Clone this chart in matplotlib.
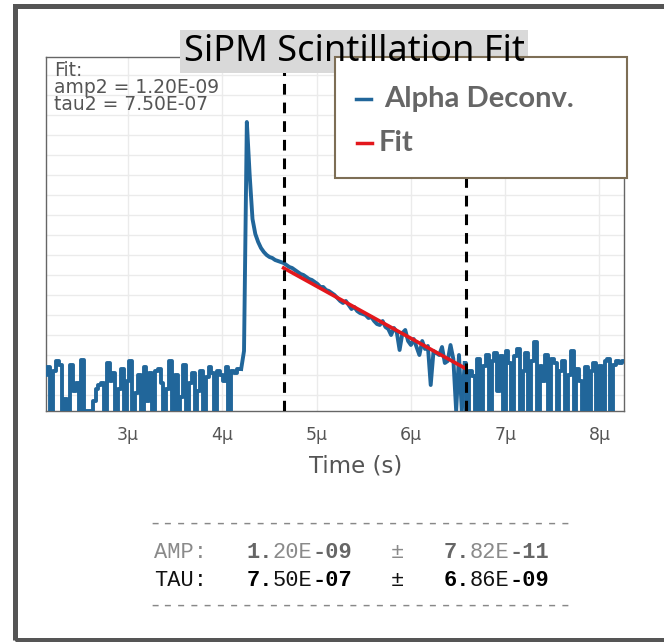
import numpy as np
import matplotlib
matplotlib.use("Agg")
import matplotlib.pyplot as plt
from matplotlib.patches import Rectangle
from matplotlib.lines import Line2D

# waveform samples (arbitrary units, log-like display height), 0.03 us apart
t0 = 2.13
dt = 0.03
baseline_pre = [36, 44, 0, 40, 50, 46, 0, 12, 0, 46,
                20, 28, 0, 51, 0, 0, 0, 10, 22, 26,
                28, 0, 48, 30, 38, 0, 22, 42, 0, 30,
                50, 0, 18, 36, 0, 44, 10, 38, 0, 40,
                42, 28, 0, 22, 50, 0, 36, 0, 14, 46,
                0, 28, 38, 0, 20, 40, 0, 34, 44, 38,
                0, 40, 36, 30, 44, 0, 40, 38, 42]
pulse = [42, 60, 289, 236, 192, 177, 169, 163, 159, 156, 154, 153, 151, 150, 149]
decay = [148, 146, 144, 143, 141, 139, 137, 136, 134, 132,
         131, 129, 127, 124, 124, 121, 120, 118, 116, 113,
         110, 108, 110, 106, 102, 104, 100, 98, 97, 96,
         93, 94, 90, 87, 86, 90, 84, 82, 76, 83,
         79, 61, 78, 81, 70, 66, 72, 64, 56, 70,
         62, 65, 26, 60, 58, 56, 64, 48, 50, 66,
         52, 0, 56, 0]
baseline_post = [48, 0, 40, 35, 0, 52, 0, 45, 56, 0,
                 50, 58, 20, 55, 0, 60, 48, 0, 55, 62,
                 0, 40, 58, 0, 50, 69, 0, 45, 30, 56,
                 0, 52, 48, 0, 40, 50, 0, 36, 60, 0,
                 42, 30, 0, 44, 0, 40, 48, 0, 45, 0,
                 50, 52, 0, 46, 50, 48, 50]

fit_t = [4.65, 6.57]
fit_y = [143, 43]
window_t = [4.65, 6.58]

xticks = [3, 4, 5, 6, 7, 8]
xticklabels = ["3\u03bc", "4\u03bc", "5\u03bc", "6\u03bc", "7\u03bc", "8\u03bc"]

fit_note = "Fit:\namp2 = 1.20E-09\ntau2 = 7.50E-07"
table_rows = [
    ("AMP:", ["1.", "20E", "-09"], ["7.", "82E", "-11"], "#8a8a8a", "#666666"),
    ("TAU:", ["7.", "50E", "-07"], ["6.", "86E", "-09"], "#111111", "#000000"),
]

signal = baseline_pre + pulse + decay + baseline_post
t = t0 + dt * np.arange(len(signal))
n1 = len(baseline_pre)
n2 = n1 + len(pulse) + len(decay)

W, H = 664, 642
def fx(px):
    return px / W
def fy(py):
    return 1 - py / H

fig = plt.figure(figsize=(6.64, 6.42), dpi=100)
fig.patch.set_facecolor("white")

ax = fig.add_axes([fx(46), fy(411), fx(624) - fx(46), fy(57) - fy(411)])
blue = "#21669a"
# noisy baseline looks like bars, pulse + decay drawn as a plain line
ax.plot(t[:n1 + 1], signal[:n1 + 1], color=blue, lw=2.8, drawstyle="steps-mid", zorder=3)
ax.plot(t[n1:n2 + 1], signal[n1:n2 + 1], color=blue, lw=2.8, zorder=3)
ax.plot(t[n2:], signal[n2:], color=blue, lw=2.8, drawstyle="steps-mid", zorder=3)
ax.plot(fit_t, fit_y, color="#e3171c", lw=2.6, zorder=4)
for x in window_t:
    ax.axvline(x, color="black", lw=2.2, ls=(0, (3.5, 2.6)), zorder=5)

ax.set_xlim(2.13, 8.26)
ax.set_ylim(0, 354)
ax.set_xticks(xticks)
ax.set_xticklabels(xticklabels)
ax.set_yticks(np.arange(16, 354, 20))
ax.set_yticklabels([])
ax.grid(True, color="#ebebeb", lw=1)
ax.set_axisbelow(True)
ax.tick_params(length=0, pad=11, labelsize=12.5, labelcolor="#555555")
for s in ax.spines.values():
    s.set_color("#666666")
    s.set_linewidth(1)

ax.text(0.014, 0.99, fit_note, transform=ax.transAxes, ha="left", va="top",
        fontsize=13.5, color="#555555", linespacing=0.88, family="DejaVu Sans")

fig.text(fx(356), fy(466), "Time (s)", ha="center", va="center",
         fontsize=16.5, color="#555555")

# title with grey background
fig.add_artist(Rectangle((fx(180), fy(73)), fx(528) - fx(180), fy(30) - fy(73),
                         transform=fig.transFigure, facecolor="#d9d9d9",
                         edgecolor="none", zorder=6))
fig.text(fx(354), fy(52), "SiPM Scintillation Fit", ha="center", va="center",
         fontsize=26, color="black", family="Noto Sans", zorder=7)

# legend box
fig.add_artist(Rectangle((fx(335), fy(178)), fx(627) - fx(335), fy(57) - fy(178),
                         transform=fig.transFigure, facecolor="white",
                         edgecolor="#7d6e55", lw=1.5, zorder=6))
fig.add_artist(Line2D([fx(356), fx(371)], [fy(99), fy(99)], transform=fig.transFigure,
                      color=blue, lw=2.5, zorder=7))
fig.add_artist(Line2D([fx(357), fx(372)], [fy(143), fy(143)], transform=fig.transFigure,
                      color="#e3171c", lw=2.5, zorder=7))
fig.text(fx(384), fy(99), "Alpha Deconv.", ha="left", va="center", fontsize=21,
         fontweight="bold", color="#666666", family="Lato", zorder=8)
fig.text(fx(379), fy(143), "Fit", ha="left", va="center", fontsize=21,
         fontweight="bold", color="#666666", family="Lato", zorder=8)

# fit result table
mono = "Liberation Mono"
fs = 15.8
cw = 0.6 * fs * 100 / 72
x0 = 154
fig.text(fx(148), fy(524), "-" * 32, ha="left", va="center", fontsize=fs,
         family=mono, color="#888888")
fig.text(fx(148), fy(606), "-" * 32, ha="left", va="center", fontsize=fs,
         family=mono, color="#888888")
for r, (name, val, err, c_reg, c_bold) in enumerate(table_rows):
    y = fy(553 + 27 * r)
    fig.text(fx(x0), y, name, ha="left", va="center", fontsize=fs, family=mono, color=c_reg)
    for start, parts in ((7, val), (22, err)):
        idx = start
        for k, p in enumerate(parts):
            bold = k != 1
            fig.text(fx(x0 + idx * cw), y, p, ha="left", va="center", fontsize=fs,
                     family=mono, color=c_bold if bold else c_reg,
                     fontweight="bold" if bold else "normal")
            idx += len(p)
    fig.text(fx(x0 + 18 * cw), y, "\u00b1", ha="left", va="center", fontsize=fs,
             family=mono, color=c_reg)

# outer frame
fig.add_artist(Rectangle((fx(14.5), fy(639.5)), fx(700), fy(6) - fy(639.5),
                         transform=fig.transFigure, facecolor="none",
                         edgecolor="#555555", lw=3.6, zorder=10))

fig.savefig("out.png", dpi=100)
